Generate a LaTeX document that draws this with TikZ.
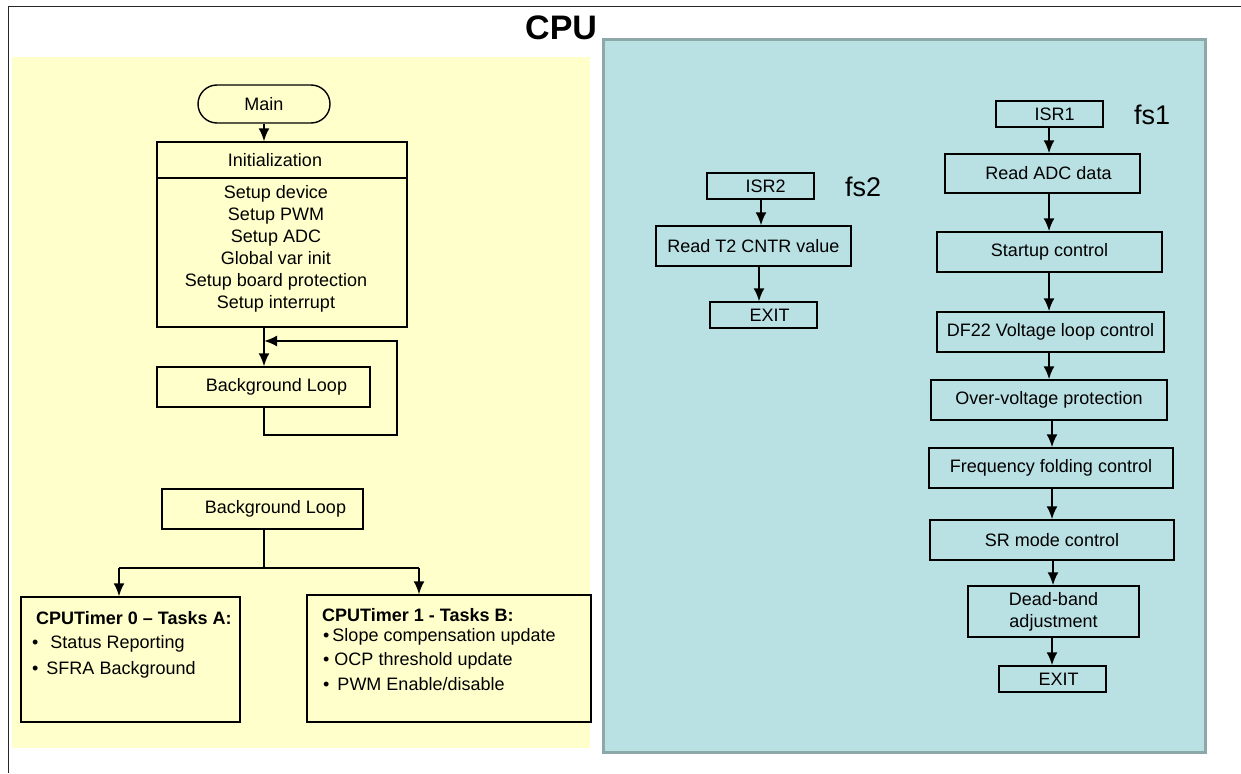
\documentclass[tikz,border=0pt]{standalone}
\usepackage{fontspec}
\setmainfont{Liberation Sans}
\usepackage{tikz}
\usetikzlibrary{arrows.meta}
\definecolor{bgyellow}{RGB}{255,255,204}
\definecolor{bgblue}{RGB}{185,224,227}
\definecolor{bgedge}{RGB}{142,168,170}
\tikzset{box/.style={draw, line width=1.4pt, inner sep=0pt,
         font=\fontsize{18}{22}\selectfont},
         txt/.style={inner sep=0pt, font=\fontsize{18}{22}\selectfont},
         arr/.style={line width=2pt, -{Latex[length=13pt,width=11pt]}},
         wire/.style={line width=1.6pt}}

\begin{document}
\begin{tikzpicture}[x=1pt,y=-1pt]
\useasboundingbox (0,0) rectangle (1241,773);

% panels
\draw [line width=1.8pt, black!85] (8.5,773) -- (8.5,6.5) -- (1241,6.5);
\fill [bgyellow] (12,57) rectangle (590,748);
\draw [bgedge, line width=3pt, fill=bgblue] (603,40) rectangle (1205,752);
\node [inner sep=0pt, anchor=base west, font=\fontsize{34}{34}\selectfont\bfseries] (cpu) at (525,40) {CPU};

% main loop
\node [box, rounded corners=19pt, minimum width=132pt, minimum height=38pt] (main) at (264,104) {Main};
\node [box, minimum width=250pt, minimum height=185pt] (init) at (282,234.5) {};
\draw [line width=1.4pt] (init.west |- 0,178) -- (init.east |- 0,178);
\node [txt] (inithead) at (275,160) {Initialization};
\node [txt, align=center] (initbody) at (276,249) {Setup device\\Setup PWM\\Setup ADC\\Global var init\\Setup board protection\\Setup interrupt};
\node [box, minimum width=213pt, minimum height=40pt] (bloopA) at (263.5,387) {\hspace{26pt}Background Loop};
\coordinate (trunk) at (264,341);
\coordinate (loopR) at (397,341);
\draw [arr] (main.south) -- (main.south |- init.north);
\draw [arr] (init.south -| trunk) -- (bloopA.north -| trunk);
\draw [arr] (bloopA.south -| trunk) -- ++(0,27) -| (loopR) -- (trunk);

% background tasks
\node [box, minimum width=201pt, minimum height=40pt] (bloopB) at (262.5,509) {\hspace{26pt}Background Loop};
\node [box, minimum width=219pt, minimum height=125pt] (taskA) at (130.5,659.5) {};
\node [box, minimum width=284pt, minimum height=127pt] (taskB) at (449,658.5) {};
\coordinate (fork) at (264,568);
\coordinate (forkL) at (119,568);
\coordinate (forkR) at (419,568);
\draw [wire] (bloopB.south -| fork) -- (fork);
\draw [wire] (forkL) -- (forkR);
\draw [arr] (forkL) -- (forkL |- taskA.north);
\draw [arr] (forkR) -- (forkR |- taskB.north);

\node [txt, anchor=west, font=\fontsize{18}{22}\selectfont\bfseries] (titleA) at (36,618) {CPUTimer 0 – Tasks A:};
\node [txt, anchor=west] (statusA) at (32,644) {•\hspace{12pt}Status Reporting};
\node [txt, anchor=west] (sfraA) at (32,670) {•\hspace{8pt}SFRA Background};
\node [txt, anchor=west, font=\fontsize{18}{22}\selectfont\bfseries] (titleB) at (322,615) {CPUTimer 1 - Tasks B:};
\node [txt, anchor=west] (slopeB) at (323,637) {•\,Slope compensation update};
\node [txt, anchor=west] (ocpB) at (323,661) {• OCP threshold update};
\node [txt, anchor=west] (pwmB) at (323,684) {•\, PWM Enable/disable};

% isr1 at fs1
\node [box, minimum width=107pt, minimum height=26pt] (isr1) at (1049.5,114) {\hspace{10pt}ISR1};
\node [inner sep=0pt, anchor=west, font=\fontsize{27}{27}\selectfont] (fsone) at (1134,115) {fs1};
\node [box, minimum width=195pt, minimum height=39pt] (readadc) at (1042.5,173.5) {\hspace{12pt}Read ADC data};
\node [box, minimum width=225pt, minimum height=40pt] (startup) at (1049.5,252) {Startup control};
\node [box, minimum width=227pt, minimum height=40pt] (dfloop) at (1050.5,332) {DF22 Voltage loop control};
\node [box, minimum width=236pt, minimum height=40pt] (ovp) at (1049,400) {Over-voltage protection};
\node [box, minimum width=244pt, minimum height=40pt] (freqfold) at (1051,468) {Frequency folding control};
\node [box, minimum width=244pt, minimum height=40pt] (srmode) at (1052,540) {SR mode control};
\node [box, minimum width=171pt, minimum height=51pt, align=center] (deadband) at (1053.5,611.5) {Dead-band\\adjustment};
\node [box, minimum width=107pt, minimum height=26pt] (exitA) at (1052.5,679) {\hspace{12pt}EXIT};
\draw [arr] (isr1.south -| 1049,0) -- (readadc.north -| 1049,0);
\draw [arr] (readadc.south -| 1049,0) -- (startup.north -| 1049,0);
\draw [arr] (startup.south -| 1049,0) -- (dfloop.north -| 1049,0);
\draw [arr] (dfloop.south -| 1049,0) -- (ovp.north -| 1049,0);
\draw [arr] (ovp.south -| 1052,0) -- (freqfold.north -| 1052,0);
\draw [arr] (freqfold.south -| 1052,0) -- (srmode.north -| 1052,0);
\draw [arr] (srmode.south -| 1053,0) -- (deadband.north -| 1053,0);
\draw [arr] (deadband.south -| 1052,0) -- (exitA.north -| 1052,0);

% isr2 at fs2
\node [box, minimum width=107pt, minimum height=26pt] (isr2) at (760.5,186) {\hspace{10pt}ISR2};
\node [inner sep=0pt, anchor=west, font=\fontsize{27}{27}\selectfont] (fstwo) at (845,187) {fs2};
\node [box, minimum width=195pt, minimum height=40pt] (readtwo) at (753.5,246) {Read T2 CNTR value};
\node [box, minimum width=107pt, minimum height=26pt] (exitB) at (763.5,315) {\hspace{12pt}EXIT};
\draw [arr] (isr2.south -| 761,0) -- (readtwo.north -| 761,0);
\draw [arr] (readtwo.south -| 759,0) -- (exitB.north -| 759,0);
\end{tikzpicture}
\end{document}
